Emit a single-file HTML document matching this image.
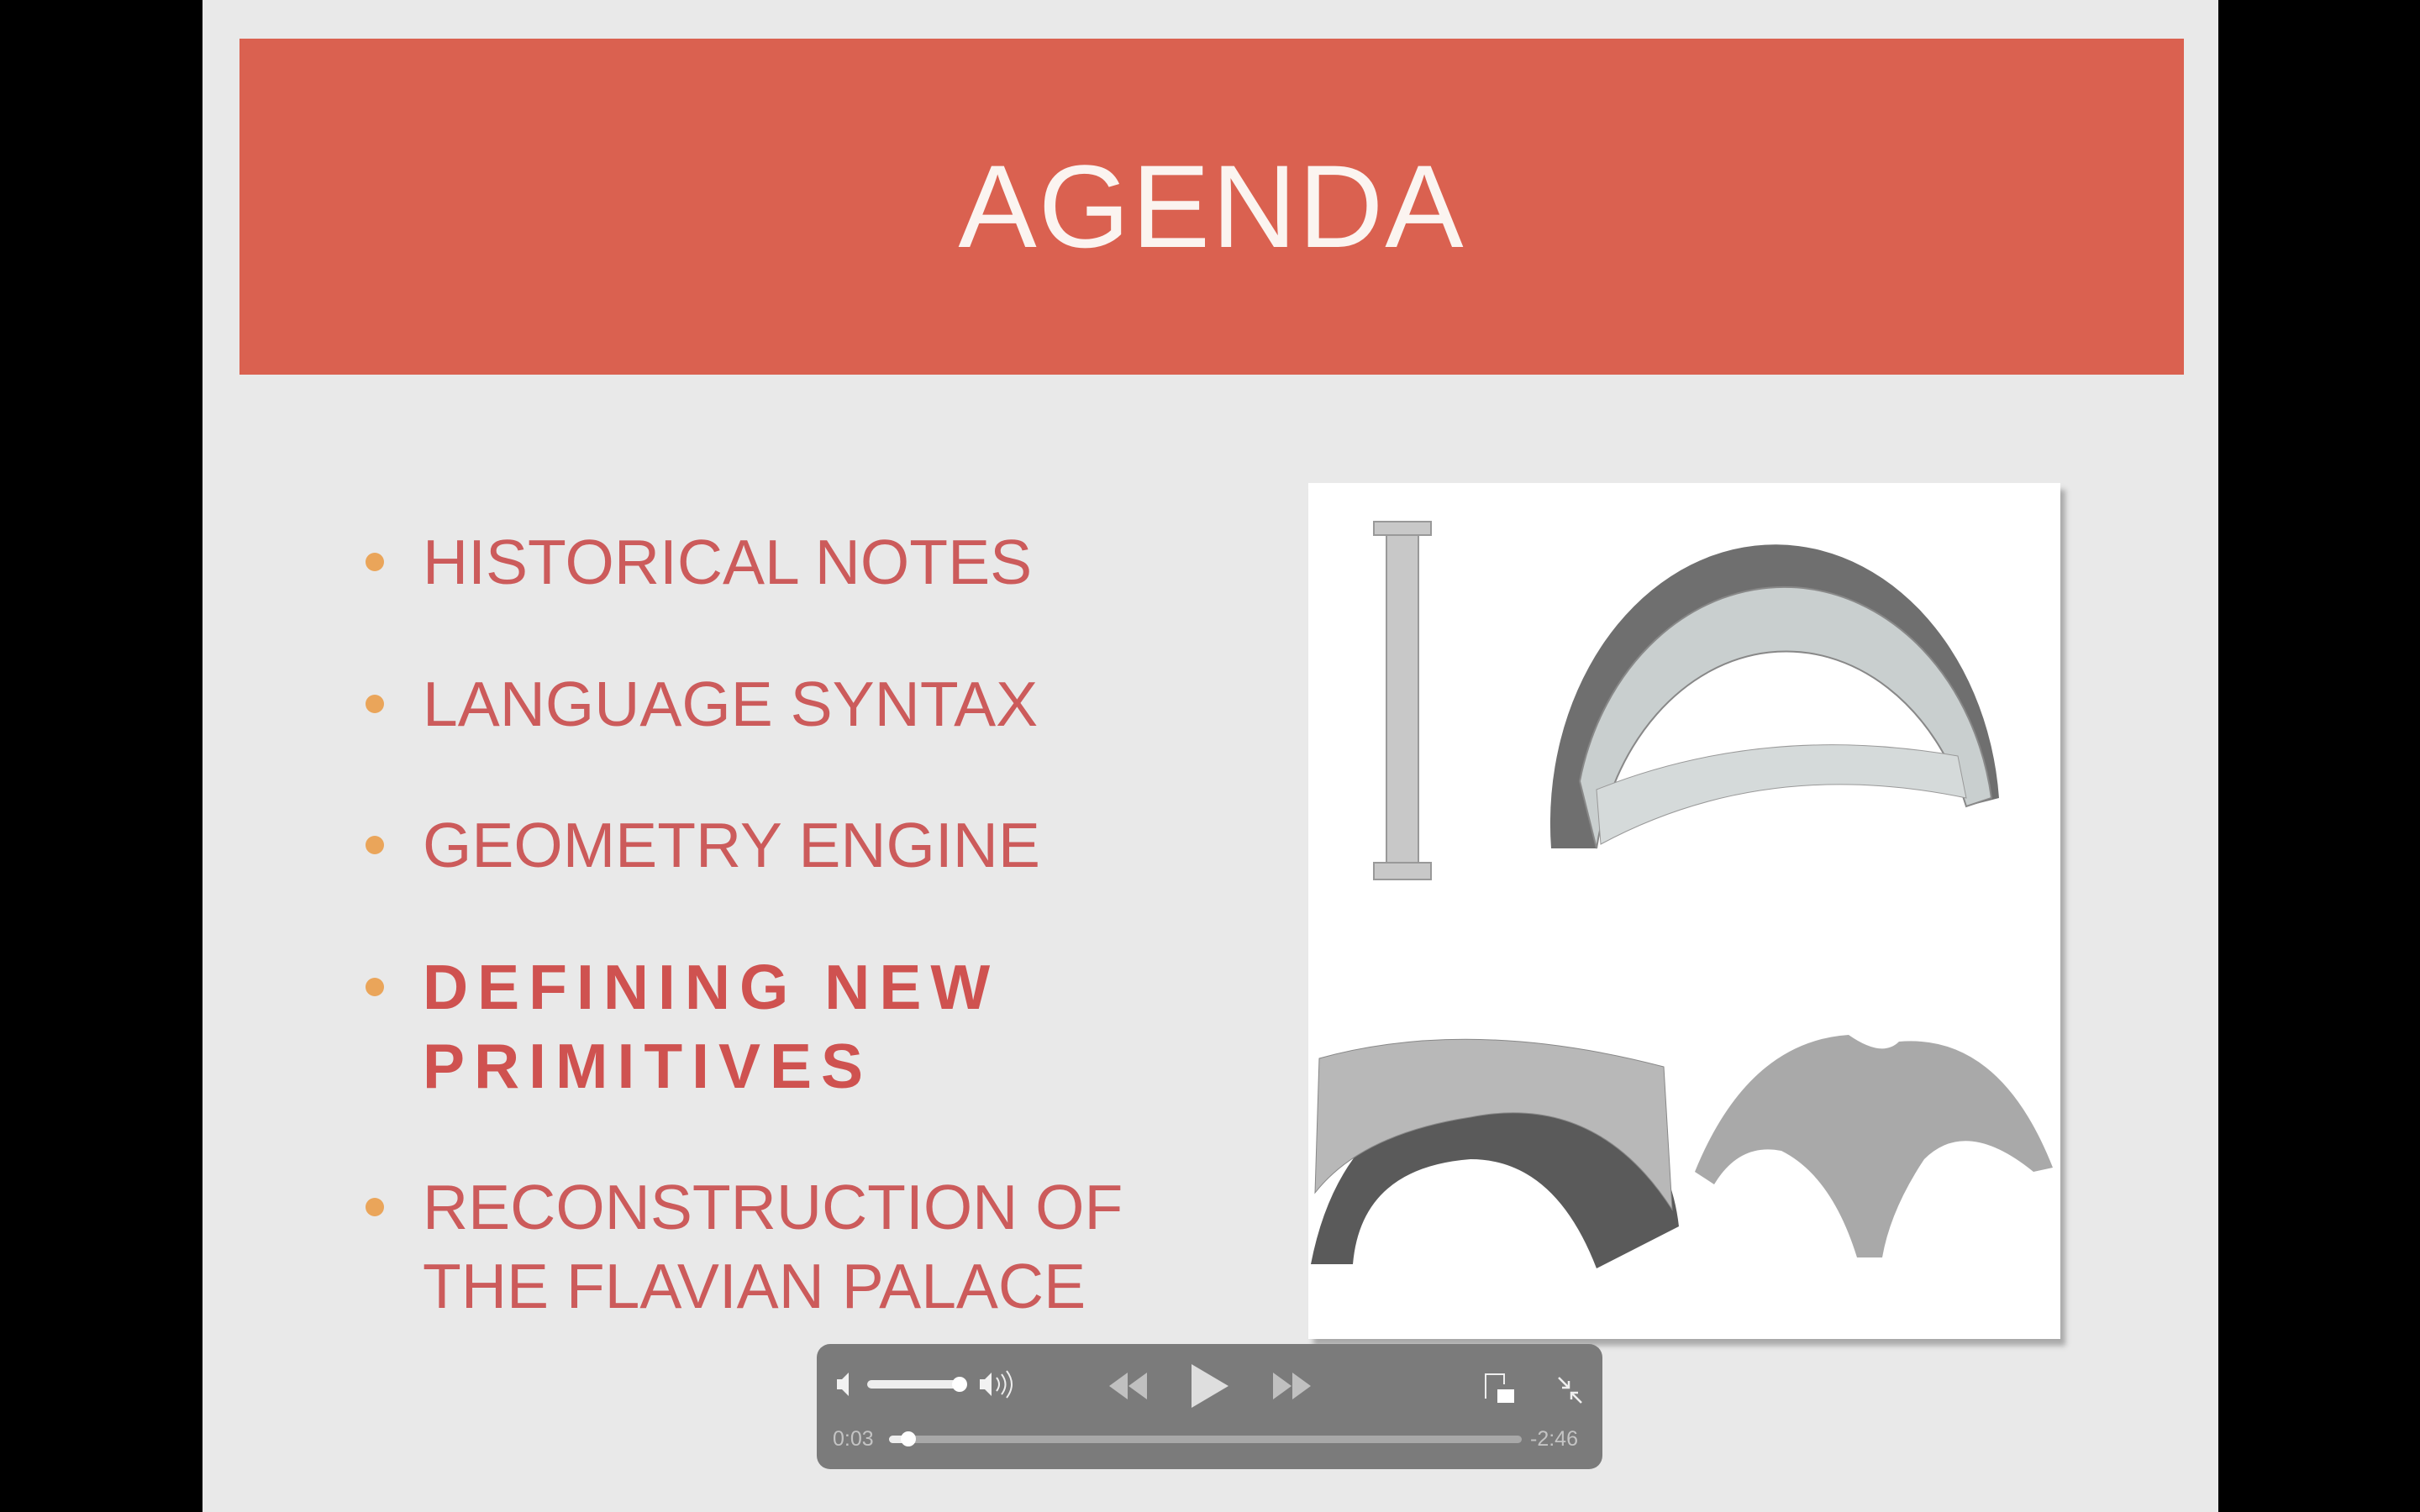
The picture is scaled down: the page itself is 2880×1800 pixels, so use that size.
<!DOCTYPE html>
<html><head><meta charset="utf-8"><style>
html,body{margin:0;padding:0;width:2880px;height:1800px;overflow:hidden;background:#000}
#slide{position:absolute;left:241px;top:0;width:2399px;height:1800px;background:#e9e9e9}
#banner{position:absolute;left:285px;top:46px;width:2314px;height:400px;background:#da6150}
#title{position:absolute;left:285px;top:46px;width:2314px;height:400px;text-align:center;color:#fbf4f0;font:140px "Liberation Sans",sans-serif;line-height:400px;letter-spacing:2px}
.item{position:absolute;left:503px;color:#cc5b5b;font:75px "Liberation Sans",sans-serif;line-height:94px;letter-spacing:0px}
.dot{position:absolute;left:-68px;top:36px;width:22px;height:22px;border-radius:50%;background:#eaa55a}
#panel{position:absolute;left:1557px;top:575px;width:895px;height:1019px;background:#fff;box-shadow:6px 8px 6px #aaa}
#ctrl{position:absolute;left:972px;top:1600px;width:935px;height:149px;border-radius:16px;background:#7b7b7b}
.t{position:absolute;color:#c4c4c4;font:25px "Liberation Sans",sans-serif}
</style></head><body>
<div id="slide"></div>
<div id="banner"></div>
<div id="title">AGENDA</div>
<div class="item" style="top:622px"><span class="dot"></span>HISTORICAL NOTES</div>
<div class="item" style="top:791px"><span class="dot"></span>LANGUAGE SYNTAX</div>
<div class="item" style="top:959px"><span class="dot"></span>GEOMETRY ENGINE</div>
<div class="item" style="top:1128px;font-weight:bold;letter-spacing:11px;color:#cf5250"><span class="dot"></span>DEFINING NEW<br>PRIMITIVES</div>
<div class="item" style="top:1390px"><span class="dot"></span>RECONSTRUCTION OF<br>THE FLAVIAN PALACE</div>
<div id="panel"></div>
<svg width="2880" height="1800" style="position:absolute;left:0;top:0">
<g fill="#c8c8c8" stroke="#999" stroke-width="2">
<rect x="1635" y="621" width="68" height="16"/><rect x="1650" y="637" width="38" height="390"/><rect x="1635" y="1027" width="68" height="20"/></g>
<g>
<path d="M1846 1010 A266 330 0 0 1 2379 950 L2340 960 A230 290 0 0 0 1900 1010 Z" fill="#6f6f6f"/>
<path d="M1900 1010 A230 290 0 0 1 2340 960 L2370 950 A250 300 0 0 0 1880 930 Z" fill="#c9cfcf" stroke="#888" stroke-width="2"/>
<path d="M1905 1005 Q2100 900 2340 950 L2330 900 Q2100 860 1900 940 Z" fill="#d5dada" stroke="#999"/></g>
<g>
<path d="M1560 1505 Q1600 1300 1790 1290 Q1980 1300 1998 1460 L1900 1510 Q1850 1380 1750 1380 Q1620 1390 1610 1505 Z" fill="#5a5a5a"/>
<path d="M1570 1260 Q1750 1210 1980 1270 L1990 1440 Q1900 1300 1750 1330 Q1620 1350 1565 1420 Z" fill="#b8b8b8" stroke="#888"/></g>
<g>
<path d="M2017 1395 Q2080 1240 2200 1232 Q2240 1260 2260 1240 Q2380 1230 2443 1390 L2420 1395 Q2340 1330 2290 1380 Q2250 1440 2240 1497 L2210 1497 Q2180 1400 2120 1370 Q2070 1360 2040 1410 Z" fill="#a9a9a9"/></g>
</svg>
<div id="ctrl"></div>
<svg width="2880" height="1800" style="position:absolute;left:0;top:0">
<path d="M996 1642h6l8-8v28l-8-8h-6z" fill="#f2f2f2"/>
<rect x="1032" y="1643" width="110" height="10" rx="5" fill="#eee"/>
<circle cx="1142" cy="1648" r="9" fill="#fff"/>
<path d="M1166 1642h6l8-8v28l-8-8h-6z" fill="#f2f2f2"/>
<path d="M1186 1640q6 8 0 16M1192 1636q9 12 0 24M1198 1632q12 16 0 32" stroke="#eee" stroke-width="2" fill="none"/>
<path d="M1342 1634l-22 16 22 16zM1365 1634l-22 16 22 16z" fill="#c0c0c0"/>
<path d="M1418 1624l44 26-44 26z" fill="#dedede"/>
<path d="M1515 1634l22 16-22 16zM1538 1634l22 16-22 16z" fill="#c0c0c0"/>
<g><path d="M1768 1665v-29h22v12" stroke="#eee" stroke-width="2" fill="none"/><rect x="1782" y="1654" width="20" height="16" fill="#fff"/></g>
<path d="M1855 1640l12 12M1867 1644v8h-8M1882 1670l-12-12M1870 1666v-8h8" stroke="#eee" stroke-width="2.5" fill="none"/>
<rect x="1058" y="1709" width="753" height="9" rx="4.5" fill="#a8a8a8"/>
<rect x="1058" y="1709" width="22" height="9" rx="4.5" fill="#eee"/>
<circle cx="1081" cy="1713" r="9" fill="#fff"/>
</svg>
<div class="t" style="left:991px;top:1699px">0:03</div>
<div class="t" style="left:1821px;top:1699px">-2:46</div>
</body></html>
